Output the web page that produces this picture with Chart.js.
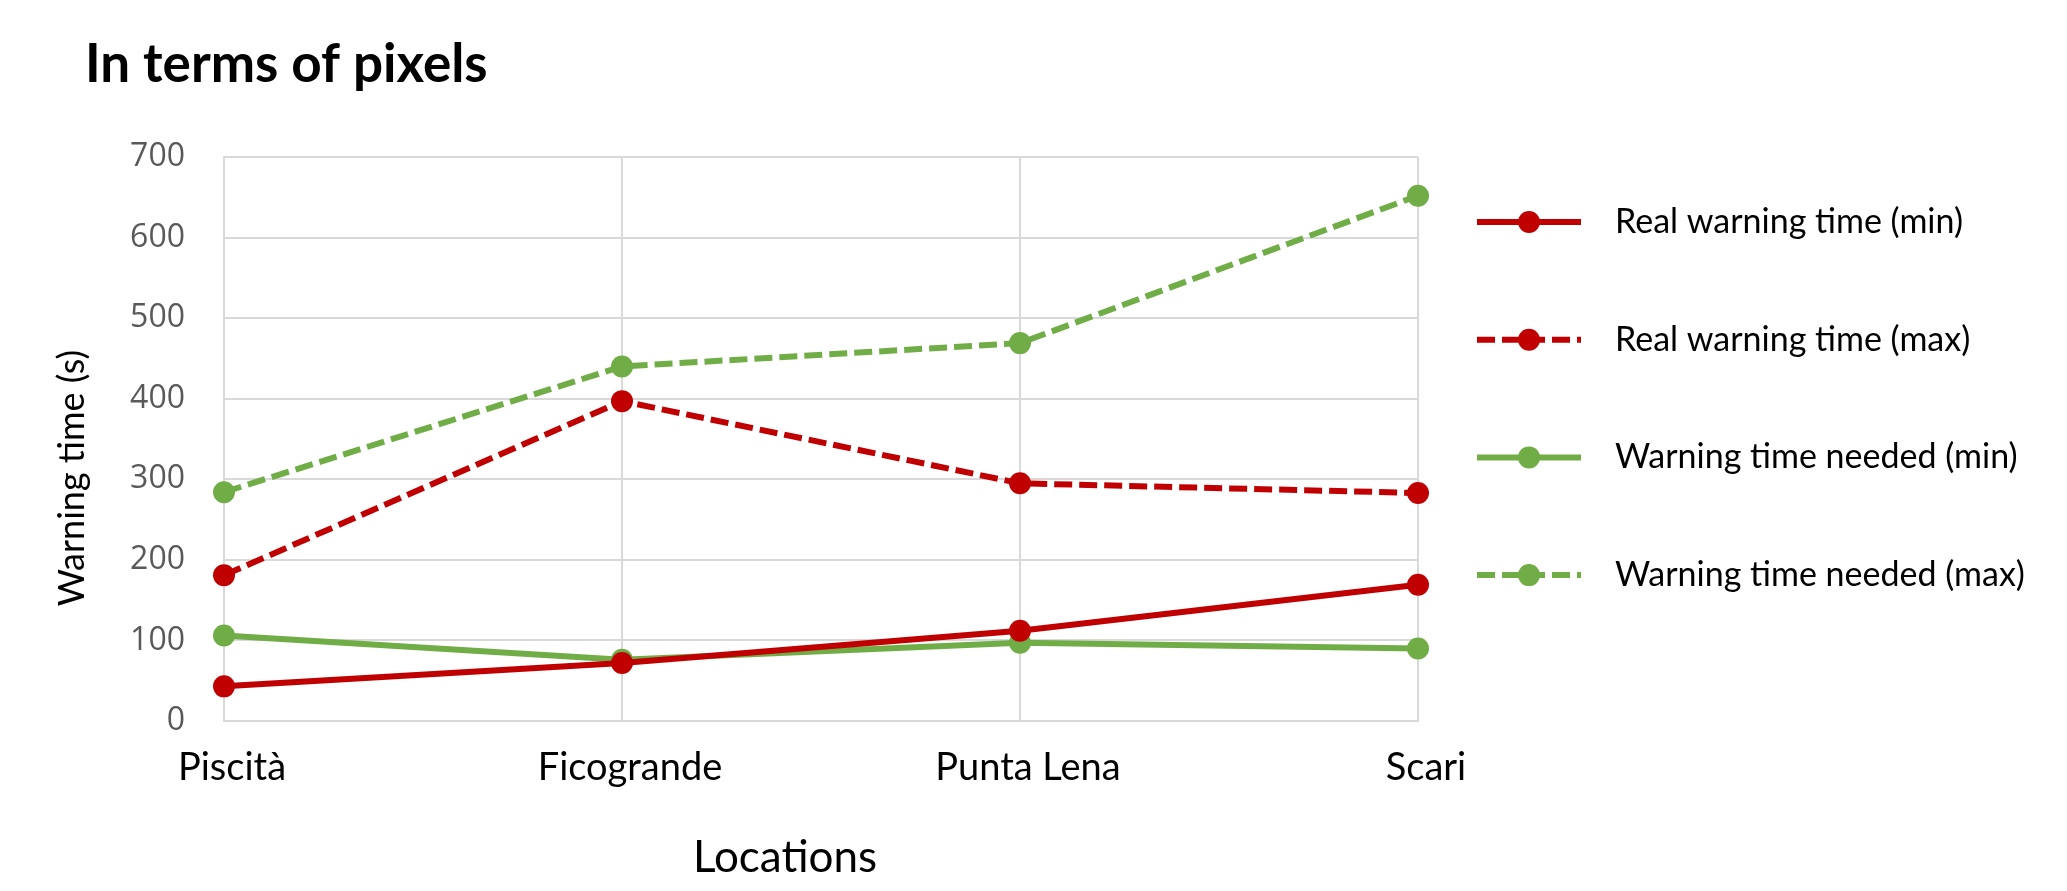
<!DOCTYPE html>
<html>
<head>
<meta charset="utf-8">
<script src="https://cdn.jsdelivr.net/npm/chart.js@4.4.1/dist/chart.umd.min.js"></script>
<style>
  html, body { margin: 0; padding: 0; background: #fff; }
  #wrap { position: relative; width: 2067px; height: 891px; }
</style>
</head>
<body>
<div id="wrap"><canvas id="line-chart"></canvas></div>
<script>
var chartTitle = "In terms of pixels";
var xTitle = "Locations";
var yTitle = "Warning time (s)";

var locations = ["Piscità", "Ficogrande", "Punta Lena", "Scari"]; // x categories
var realMin = [43, 72, 112, 169];      // Real warning time (min)
var realMax = [181, 397, 295, 283];    // Real warning time (max)
var neededMin = [106, 76, 97, 90];     // Warning time needed (min)
var neededMax = [284, 440, 469, 652];  // Warning time needed (max)
var yMin = 0, yMax = 700, yStep = 100;

var RED = "#C00000";
var GREEN = "#70AD47";
var DASH = [18, 7];

function series(label, data, color, dashed) {
    return {
        label: label,
        data: data,
        borderColor: color,
        backgroundColor: color,
        borderWidth: 6,
        borderDash: dashed ? DASH : [],
        borderCapStyle: "butt",
        pointRadius: 11,
        pointHoverRadius: 11,
        pointBorderWidth: 0,
        pointBackgroundColor: color,
        tension: 0
    };
}

// draws title, axis titles and the legend
var decorPlugin = {
    id: "decor",
    afterDraw: function (chart) {
        var ctx = chart.ctx;
        ctx.save();
        ctx.fillStyle = "#000";

        ctx.font = "bold 53px Lato";
        ctx.textAlign = "left";
        ctx.textBaseline = "alphabetic";
        ctx.fillText(chartTitle, 85, 82);

        ctx.font = "44px Lato";
        ctx.textAlign = "center";
        ctx.fillText(xTitle, 785, 872);

        ctx.save();
        ctx.translate(84, 478);
        ctx.rotate(-Math.PI / 2);
        ctx.font = "36px Lato";
        ctx.textAlign = "center";
        ctx.textBaseline = "alphabetic";
        ctx.fillText(yTitle, 0, 0);
        ctx.restore();

        chart.data.datasets.forEach(function (ds, i) {
            var y = 222 + i * 117.7;
            ctx.beginPath();
            ctx.strokeStyle = ds.borderColor;
            ctx.lineWidth = ds.borderWidth;
            ctx.lineCap = "butt";
            ctx.setLineDash(ds.borderDash);
            ctx.moveTo(1477, y);
            ctx.lineTo(1581, y);
            ctx.stroke();
            ctx.setLineDash([]);
            ctx.beginPath();
            ctx.fillStyle = ds.pointBackgroundColor;
            ctx.arc(1529, y, ds.pointRadius, 0, Math.PI * 2);
            ctx.fill();
            ctx.fillStyle = "#000";
            ctx.font = "34px Lato";
            ctx.textAlign = "left";
            ctx.textBaseline = "middle";
            ctx.fillText(ds.label, 1615, y);
        });
        ctx.restore();
    }
};

var gridColor = "#D9D9D9";

var config = {
    type: "line",
    data: {
        labels: locations,
        datasets: [
            series("Real warning time (min)", realMin, RED, false),
            series("Real warning time (max)", realMax, RED, true),
            series("Warning time needed (min)", neededMin, GREEN, false),
            series("Warning time needed (max)", neededMax, GREEN, true)
        ]
    },
    options: {
        responsive: true,
        maintainAspectRatio: false,
        animation: false,
        layout: { padding: { left: 0, right: 649, top: 157, bottom: 0 } },
        plugins: {
            legend: { display: false },
            title: { display: false },
            tooltip: { enabled: false }
        },
        scales: {
            x: {
                offset: false,
                grid: { color: gridColor, lineWidth: 2, drawTicks: false },
                border: { color: gridColor, width: 2 },
                ticks: {
                    color: "#000",
                    font: { family: "Lato", size: 38 },
                    padding: 24,
                    labelOffset: 8,
                    maxRotation: 0,
                    autoSkip: false
                },
                afterFit: function (scale) { scale.height = 170; }
            },
            y: {
                min: yMin,
                max: yMax,
                grid: { color: gridColor, lineWidth: 2, drawTicks: false },
                border: { color: gridColor, width: 2 },
                ticks: {
                    stepSize: yStep,
                    color: "#595959",
                    font: { family: "Open Sans", size: 32 },
                    padding: 39
                },
                afterFit: function (scale) { scale.width = 224; }
            }
        }
    },
    plugins: [decorPlugin]
};

var lineChart = new Chart(document.getElementById("line-chart"), config);
</script>
</body>
</html>
